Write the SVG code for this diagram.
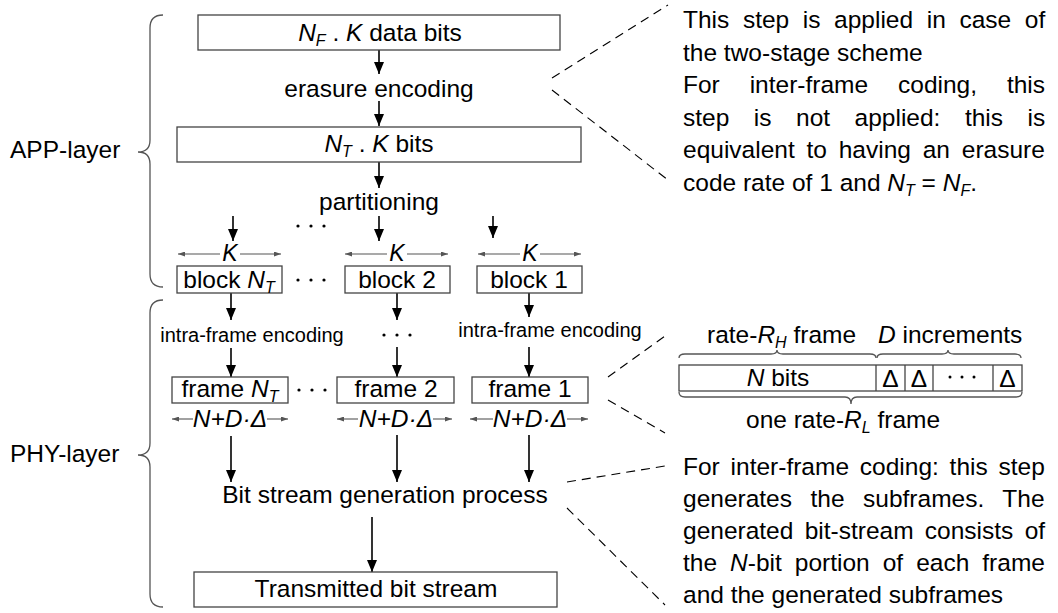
<svg xmlns="http://www.w3.org/2000/svg" width="1058" height="613" viewBox="0 0 1058 613">
<style>
text{font-family:"Liberation Sans",Arial,sans-serif;fill:#000;}
.t{font-size:24.5px;}
.s{font-size:20px;}
.k{font-size:23px;font-style:italic;}
.i{font-style:italic;}
.box{fill:#fff;stroke:#444;stroke-width:1.3;}
.arr{stroke:#000;stroke-width:1.6;fill:none;marker-end:url(#ah);}
.dim{stroke:#555;stroke-width:1.1;fill:none;marker-end:url(#sh);}
.brace{stroke:#555;stroke-width:1.3;fill:none;}
.dash{stroke:#000;stroke-width:1.1;stroke-dasharray:9 6;fill:none;}
.dot{fill:#000;}
</style>
<defs>
<marker id="ah" viewBox="0 0 12 10" refX="12" refY="5" markerWidth="12" markerHeight="11" orient="auto" markerUnits="userSpaceOnUse"><path d="M0,0 L12,5 L0,10 z" fill="#000"/></marker>
<marker id="sh" viewBox="0 0 7 5" refX="7" refY="2.5" markerWidth="7" markerHeight="5" orient="auto" markerUnits="userSpaceOnUse"><path d="M0,0 L7,2.5 L0,5 z" fill="#555"/></marker>
</defs>

<g id="layers">
<text class="t" x="10" y="158">APP-layer</text>
<path class="brace" d="M163,15 Q150,15 150,28 L150,140 Q150,152 138,152 Q150,152 150,164 L150,274 Q150,287 163,287"/>
<text class="t" x="10" y="462">PHY-layer</text>
<path class="brace" d="M163,300 Q150,300 150,313 L150,443 Q150,455 138,455 Q150,455 150,467 L150,594 Q150,607 163,607"/>
</g>

<g id="connectors">
<line class="arr" x1="379" y1="50" x2="379" y2="74"/>
<line class="arr" x1="379" y1="101" x2="379" y2="126"/>
<line class="arr" x1="379" y1="162" x2="379" y2="188"/>
<line class="arr" x1="233" y1="216" x2="233" y2="241"/>
<line class="arr" x1="379" y1="216" x2="379" y2="241"/>
<line class="arr" x1="493" y1="216" x2="493" y2="238"/>
<line class="arr" x1="231" y1="293" x2="231" y2="320"/>
<line class="arr" x1="397" y1="293" x2="397" y2="320"/>
<line class="arr" x1="529" y1="293" x2="529" y2="317"/>
<line class="arr" x1="231" y1="348" x2="231" y2="377"/>
<line class="arr" x1="397" y1="347" x2="397" y2="377"/>
<line class="arr" x1="529" y1="347" x2="529" y2="377"/>
<line class="arr" x1="231" y1="436" x2="231" y2="482"/>
<line class="arr" x1="397" y1="435" x2="397" y2="482"/>
<line class="arr" x1="529" y1="435" x2="529" y2="482"/>
<line class="arr" x1="372" y1="517" x2="372" y2="572"/>
<line class="dash" x1="552" y1="78" x2="668" y2="5"/>
<line class="dash" x1="552" y1="90" x2="668" y2="180"/>
<line class="dash" x1="608" y1="377" x2="665" y2="336"/>
<line class="dash" x1="608" y1="400" x2="665" y2="433"/>
<line class="dash" x1="567" y1="482" x2="665" y2="466"/>
<line class="dash" x1="567" y1="508" x2="665" y2="605"/>
</g>

<g id="data-bits">
<rect class="box" x="198" y="15" width="362" height="35"/>
<text class="t" x="380" y="41" text-anchor="middle"><tspan class="i">N</tspan><tspan class="i" font-size="16" dy="5">F</tspan><tspan dy="-5"> . </tspan><tspan class="i">K</tspan> data bits</text>
</g>
<g id="erasure">
<text class="t" x="379" y="97" text-anchor="middle">erasure encoding</text>
</g>
<g id="nt-bits">
<rect class="box" x="177" y="127" width="404" height="35"/>
<text class="t" x="379" y="152" text-anchor="middle"><tspan class="i">N</tspan><tspan class="i" font-size="16" dy="5">T</tspan><tspan dy="-5"> . </tspan><tspan class="i">K</tspan> bits</text>
</g>
<g id="partitioning">
<text class="t" x="379" y="210" text-anchor="middle">partitioning</text>
<circle class="dot" cx="298" cy="226" r="1.6"/><circle class="dot" cx="311" cy="226" r="1.6"/><circle class="dot" cx="324" cy="226" r="1.6"/>
</g>

<g id="block-nt">
<line class="dim" x1="220" y1="254" x2="178" y2="254"/>
<line class="dim" x1="240" y1="254" x2="281" y2="254"/>
<text class="k" x="230" y="261" text-anchor="middle">K</text>
<rect class="box" x="177" y="266" width="105" height="27"/>
<text class="t" x="229" y="288" text-anchor="middle">block <tspan class="i">N</tspan><tspan class="i" font-size="16" dy="5">T</tspan></text>
</g>
<g id="block-dots">
<circle class="dot" cx="298" cy="280" r="1.6"/><circle class="dot" cx="311" cy="280" r="1.6"/><circle class="dot" cx="324" cy="280" r="1.6"/>
</g>
<g id="block-2">
<line class="dim" x1="387" y1="254" x2="345" y2="254"/>
<line class="dim" x1="407" y1="254" x2="448" y2="254"/>
<text class="k" x="397" y="261" text-anchor="middle">K</text>
<rect class="box" x="345" y="266" width="105" height="27"/>
<text class="t" x="397" y="288" text-anchor="middle">block 2</text>
</g>
<g id="block-1">
<line class="dim" x1="520" y1="254" x2="478" y2="254"/>
<line class="dim" x1="540" y1="254" x2="581" y2="254"/>
<text class="k" x="530" y="261" text-anchor="middle">K</text>
<rect class="box" x="477" y="266" width="105" height="27"/>
<text class="t" x="529" y="288" text-anchor="middle">block 1</text>
</g>

<g id="intra-left">
<text class="s" x="252" y="342" text-anchor="middle">intra-frame encoding</text>
</g>
<g id="intra-mid">
<circle class="dot" cx="384" cy="335" r="1.6"/><circle class="dot" cx="397" cy="335" r="1.6"/><circle class="dot" cx="410" cy="335" r="1.6"/>
</g>
<g id="intra-right">
<text class="s" x="550" y="337" text-anchor="middle">intra-frame encoding</text>
</g>

<g id="frame-nt">
<rect class="box" x="172" y="377" width="116" height="26"/>
<text class="t" x="230" y="397" text-anchor="middle">frame <tspan class="i">N</tspan><tspan class="i" font-size="16" dy="5">T</tspan></text>
<line class="dim" x1="193" y1="419" x2="172" y2="419"/>
<line class="dim" x1="267" y1="419" x2="288" y2="419"/>
<text class="t i" x="230" y="427" text-anchor="middle">N+D·Δ</text>
</g>
<g id="frame-dots">
<circle class="dot" cx="299" cy="390" r="1.6"/><circle class="dot" cx="312" cy="390" r="1.6"/><circle class="dot" cx="325" cy="390" r="1.6"/>
</g>
<g id="frame-2">
<rect class="box" x="337" y="377" width="117" height="26"/>
<text class="t" x="396" y="397" text-anchor="middle">frame 2</text>
<line class="dim" x1="358" y1="419" x2="337" y2="419"/>
<line class="dim" x1="433" y1="419" x2="452" y2="419"/>
<text class="t i" x="396" y="427" text-anchor="middle">N+D·Δ</text>
</g>
<g id="frame-1">
<rect class="box" x="472" y="377" width="116" height="26"/>
<text class="t" x="530" y="397" text-anchor="middle">frame 1</text>
<line class="dim" x1="493" y1="419" x2="470" y2="419"/>
<line class="dim" x1="567" y1="419" x2="588" y2="419"/>
<text class="t i" x="530" y="427" text-anchor="middle">N+D·Δ</text>
</g>

<g id="bitstream-gen">
<text class="t" x="385" y="503" text-anchor="middle">Bit stream generation process</text>
</g>
<g id="transmitted">
<rect class="box" x="194" y="572" width="363" height="35"/>
<text class="t" x="376" y="597" text-anchor="middle">Transmitted bit stream</text>
</g>

<g id="note-top">
<text class="t" x="683" y="28" word-spacing="6.8">This step is applied in case of</text>
<text class="t" x="683" y="60.6">the two-stage scheme</text>
<text class="t" x="683" y="93.2" word-spacing="23.1">For inter-frame coding, this</text>
<text class="t" x="683" y="125.8" word-spacing="17.7">step is not applied: this is</text>
<text class="t" x="683" y="158.4" word-spacing="5">equivalent to having an erasure</text>
<text class="t" x="683" y="191">code rate of 1 and <tspan class="i">N</tspan><tspan class="i" font-size="16" dy="5">T</tspan><tspan dy="-5"> =  </tspan><tspan class="i">N</tspan><tspan class="i" font-size="16" dy="5">F</tspan><tspan dy="-5">.</tspan></text>
</g>

<g id="frame-structure">
<text class="t" x="707" y="343"><tspan>rate-</tspan><tspan class="i">R</tspan><tspan class="i" font-size="16" dy="5">H</tspan><tspan dy="-5"> frame</tspan></text>
<text class="t" x="878" y="343"><tspan class="i">D</tspan> increments</text>
<path class="brace" d="M679,358 Q679,354 685,354 L771,354 Q777,354 777,350 Q777,354 783,354 L870,354 Q876,354 876,358"/>
<path class="brace" d="M877,358 Q877,354 883,354 L942,354 Q948,354 948,350 Q948,354 954,354 L1015,354 Q1021,354 1021,358"/>
<rect class="box" x="679" y="365" width="343" height="26"/>
<line stroke="#444" stroke-width="1.3" x1="876" y1="365" x2="876" y2="391"/>
<line stroke="#444" stroke-width="1.3" x1="905" y1="365" x2="905" y2="391"/>
<line stroke="#444" stroke-width="1.3" x1="933" y1="365" x2="933" y2="391"/>
<line stroke="#444" stroke-width="1.3" x1="993" y1="365" x2="993" y2="391"/>
<text class="t" x="778" y="386" text-anchor="middle"><tspan class="i">N</tspan> bits</text>
<text class="t" x="890.5" y="387" text-anchor="middle">Δ</text>
<text class="t" x="919" y="387" text-anchor="middle">Δ</text>
<text class="t" x="1007.5" y="387" text-anchor="middle">Δ</text>
<circle class="dot" cx="950" cy="377" r="1.5"/><circle class="dot" cx="962" cy="377" r="1.5"/><circle class="dot" cx="974" cy="377" r="1.5"/>
<path class="brace" d="M679,392 Q679,397 685,397 L845,397 Q851,397 851,404 Q851,397 857,397 L1016,397 Q1022,397 1022,392"/>
<text class="t" x="746" y="428"><tspan>one rate-</tspan><tspan class="i">R</tspan><tspan class="i" font-size="16" dy="5">L</tspan><tspan dy="-5"> frame</tspan></text>
</g>

<g id="note-bottom">
<text class="t" x="683" y="475" word-spacing="4">For inter-frame coding: this step</text>
<text class="t" x="683" y="507" word-spacing="11.7">generates the subframes. The</text>
<text class="t" x="683" y="539" word-spacing="4.5">generated bit-stream consists of</text>
<text class="t" x="683" y="571" word-spacing="6.2">the <tspan class="i">N</tspan>-bit portion of each frame</text>
<text class="t" x="683" y="603">and the generated subframes</text>
</g>
</svg>
